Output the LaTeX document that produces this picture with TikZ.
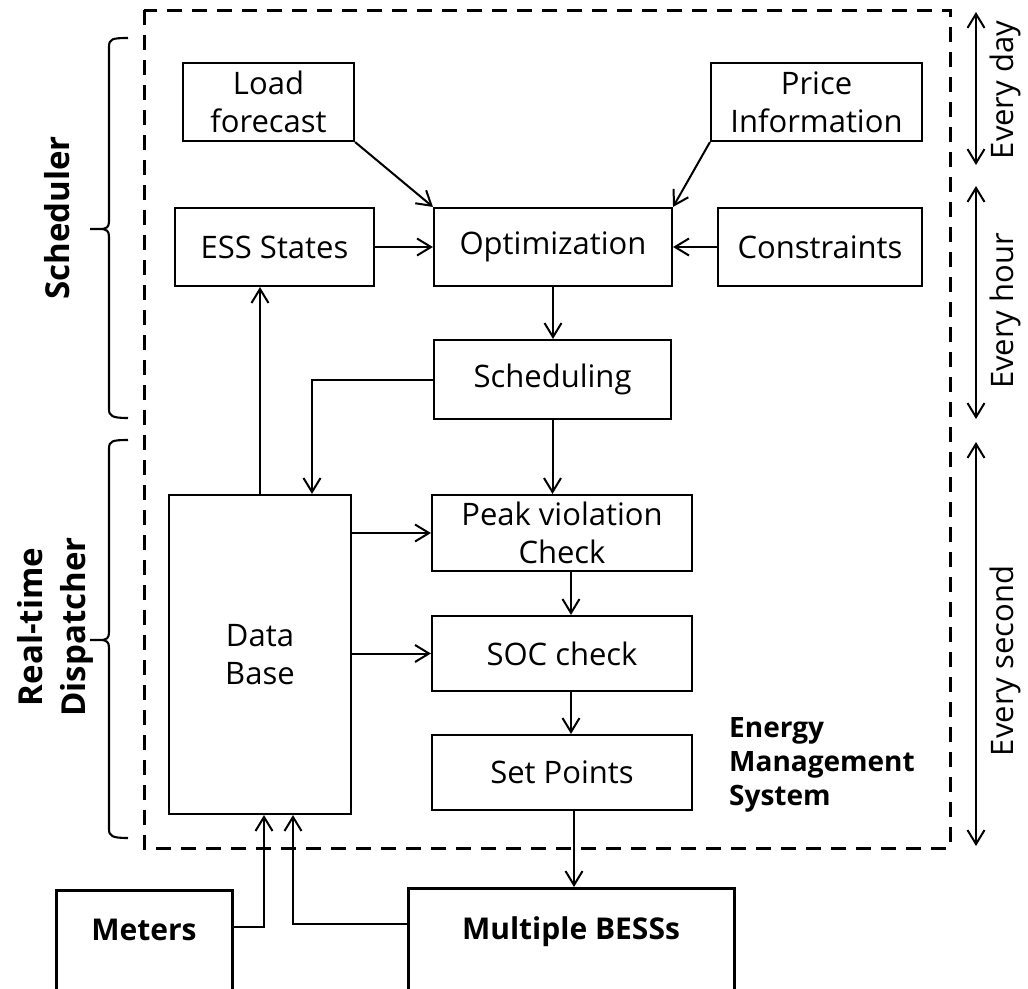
\documentclass[tikz,border=0pt]{standalone}
\usepackage{fontspec}
\setmainfont{Open Sans}
\usetikzlibrary{arrows.meta,calc}
\begin{document}
\begin{tikzpicture}[x=1pt,y=-1pt,
  box/.style={draw, line width=2.1pt, inner sep=0pt, align=center, font=\fontsize{31}{38}\selectfont},
  bbox/.style={draw, line width=3pt, inner sep=0pt, font=\bfseries\fontsize{30}{36}\selectfont},
  arr/.style={line width=2pt, -{Straight Barb[length=14pt,width=17pt]}},
  darr/.style={line width=2pt, {Straight Barb[length=14pt,width=17pt]}-{Straight Barb[length=14pt,width=17pt]}},
  brc/.style={line width=2.1pt},
  side/.style={rotate=90, inner sep=0pt, font=\fontsize{31}{38}\selectfont},
  lab/.style={rotate=90, align=center, inner sep=0pt, font=\bfseries\fontsize{33}{43}\selectfont},
  dashbox/.style={line width=3pt, dash pattern=on 15pt off 10pt}
]
\useasboundingbox (0,0) rectangle (1028,988);

% dashed EMS frame
\draw[dashbox] (144,10) rectangle (950,848);

% nodes
\node[box, minimum width=171pt, minimum height=78pt] (load) at (268.5,102) {Load\\forecast};
\node[box, minimum width=211pt, minimum height=78pt] (price) at (816.5,102) {Price\\Information};
\node[box, minimum width=199pt, minimum height=78pt] (ess) at (274.5,247) {ESS States};
\node[box, minimum width=238pt, minimum height=78pt] (opt) at (553,247) {Optimization};
\node[box, minimum width=204pt, minimum height=78pt] (cons) at (820,247) {Constraints};
\node[box, minimum width=237pt, minimum height=79pt] (sched) at (552.5,379.5) {Scheduling};
\node[box, minimum width=182pt, minimum height=319pt] (db) at (260,654.5) {Data\\Base};
\node[box, minimum width=260pt, minimum height=76pt] (peak) at (562,533) {Peak violation\\Check};
\node[box, minimum width=260pt, minimum height=75pt] (soc) at (562,653.5) {SOC check};
\node[box, minimum width=260pt, minimum height=75pt] (set) at (562,772.5) {Set Points};
\node[bbox, minimum width=176pt, text height=50pt, text depth=61pt, anchor=north] (meters) at (144,889) {Meters};
\node[bbox, minimum width=326pt, text height=51pt, text depth=62pt, anchor=north] (bess) at (571,887) {Multiple BESSs};

\node[anchor=north west, align=left, inner sep=0pt, font=\bfseries\fontsize{28}{34}\selectfont] (ems) at (729,717) {Energy\\Management\\System};

% side labels
\node[lab] (schedlab) at (57,218) {Scheduler};
\node[lab] (displab) at (55,627) {Real-time\\Dispatcher};
\node[side] (day) at (1005,90) {Every day};
\node[side] (hour) at (1005,311) {Every hour};
\node[side] (second) at (1005,661) {Every second};

% braces
\draw[brc] (128,38) .. controls (112,38) and (109,39) .. (109,47) -- (109,221)
  .. controls (109,227) and (107,229) .. (100,229) -- (90,229) -- (100,229)
  .. controls (107,229) and (109,231) .. (109,237) -- (109,409)
  .. controls (109,416) and (112,418) .. (128,418);
\draw[brc] (128,440) .. controls (112,440) and (109,441) .. (109,449) -- (109,632)
  .. controls (109,638) and (107,640) .. (100,640) -- (90,640) -- (100,640)
  .. controls (107,640) and (109,642) .. (109,648) -- (109,829)
  .. controls (109,836) and (112,838) .. (128,838);

% time arrows
\coordinate (d1) at (976,12);
\coordinate (d2) at (976,165);
\coordinate (h1) at (976,186);
\coordinate (h2) at (976,419);
\coordinate (s1) at (976,442);
\coordinate (s2) at (976,846);
\draw[darr] (d1) -- (d2);
\draw[darr] (h1) -- (h2);
\draw[darr] (s1) -- (s2);

% connectors
\draw[arr] (load.south east) -- (opt.north west);
\draw[arr] (price.south west) -- (opt.north east);
\draw[arr] (ess.east) -- (opt.west);
\draw[arr] (cons.west) -- (opt.east);
\draw[arr] (opt.south) -- (opt.south |- sched.north);
\coordinate (dbin) at ($(db.north)+(52,0)$);
\draw[arr] (sched.west) -| (dbin);
\draw[arr] (db.north) -- (db.north |- ess.south);
\draw[arr] (sched.south) -- (sched.south |- peak.north);
\draw[arr] (db.east |- peak.west) -- (peak.west);
\draw[arr] (db.east |- soc.west) -- (soc.west);
\coordinate (p1) at ($(peak.south)+(9,0)$);
\draw[arr] (p1) -- (p1 |- soc.north);
\coordinate (c1) at ($(soc.south)+(9,0)$);
\draw[arr] (c1) -- (c1 |- set.north);
\coordinate (sp) at ($(set.south)+(12,0)$);
\draw[arr] (sp) -- (sp |- bess.north);
\coordinate (mo) at ($(meters.north east)+(0,38)$);
\coordinate (mi) at ($(db.south)+(4,0)$);
\draw[arr] (mo) -| (mi);
\coordinate (bo) at ($(bess.north west)+(0,37)$);
\coordinate (bi) at ($(db.south)+(33,0)$);
\draw[arr] (bo) -| (bi);
\end{tikzpicture}
\end{document}
